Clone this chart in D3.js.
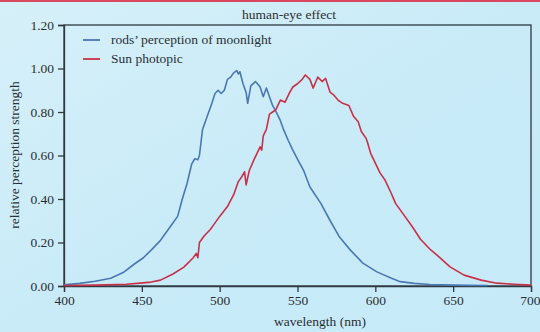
<!DOCTYPE html>
<html><head><meta charset="utf-8">
<script src="https://cdn.jsdelivr.net/npm/d3@7"></script>
<style>html,body{margin:0;padding:0;}svg{display:block;}</style>
</head><body>
<script>
const title = "human-eye effect";
const xLabel = "wavelength (nm)";
const yLabel = "relative perception strength";
const seriesNames = ["rods\u2019 perception of moonlight", "Sun photopic"];
const xTicks = [400, 450, 500, 550, 600, 650, 700];
const yTicks = [0, 0.2, 0.4, 0.6, 0.8, 1.0, 1.2];

const rodsNm = [400,410,420,430,438,445,451,456,462,468,473,476,479,482,484,486,487,489,492,495,497,499,501,503,505,507,509,511,512,513,515,517,518,520,523,526,528,530,532,534,537,539,541,544,547,551,554,558,565,571,577,584,592,601,610,616,625,635,650,660,672];
const rodsVal = [0.005,0.012,0.022,0.036,0.062,0.10,0.13,0.165,0.21,0.27,0.32,0.40,0.47,0.56,0.585,0.58,0.60,0.72,0.78,0.84,0.885,0.90,0.885,0.90,0.95,0.96,0.98,0.99,0.975,0.985,0.93,0.89,0.84,0.92,0.94,0.915,0.87,0.91,0.87,0.83,0.79,0.76,0.72,0.67,0.625,0.57,0.53,0.455,0.38,0.30,0.225,0.165,0.105,0.065,0.037,0.02,0.012,0.007,0.004,0.003,0.002];

const sunNm = [400,420,440,449,456,462,470,477,483,485,486,487,490,492,494,496,500,505,509,512,514,516,517,519,522,524,526,527,528,530,532,534,536,539,542,545,547,550,553,555,558,560,563,566,568,571,573,576,579,583,586,589,591,594,595,597,603,606,610,613,619,624,629,635,640,648,657,668,678,689,700];
const sunVal = [0.002,0.004,0.008,0.013,0.018,0.027,0.055,0.087,0.13,0.15,0.13,0.20,0.23,0.245,0.26,0.28,0.32,0.365,0.42,0.48,0.50,0.525,0.465,0.53,0.58,0.61,0.64,0.625,0.69,0.72,0.79,0.80,0.81,0.855,0.845,0.89,0.915,0.93,0.95,0.97,0.95,0.91,0.96,0.94,0.955,0.89,0.88,0.855,0.84,0.83,0.78,0.755,0.71,0.68,0.66,0.61,0.52,0.49,0.43,0.38,0.32,0.27,0.215,0.17,0.14,0.088,0.05,0.027,0.013,0.008,0.004];

const colors = ["#4a79b2", "#c83048"];

const W = 540, H = 332;
const m = {left: 64, right: 9, top: 25, bottom: 46};
const svg = d3.select("body").append("svg").attr("width", W).attr("height", H);

const defs = svg.append("defs");
const grad = defs.append("linearGradient").attr("id","bg").attr("x1","0").attr("y1","0").attr("x2","1").attr("y2","1");
grad.append("stop").attr("offset","0").attr("stop-color","#d6f0f9");
grad.append("stop").attr("offset","0.5").attr("stop-color","#c9ebf8");
grad.append("stop").attr("offset","1").attr("stop-color","#c6eaf8");
svg.append("rect").attr("width", W).attr("height", H).attr("fill", "url(#bg)");
svg.append("rect").attr("width", W).attr("height", 2).attr("fill", "#d9485c");

const x = d3.scaleLinear().domain([400, 700]).range([m.left, W - m.right]);
const y = d3.scaleLinear().domain([0, 1.2]).range([H - m.bottom, m.top]);

const font = "'Liberation Serif', 'DejaVu Serif', serif";
const axisColor = "#2f3a40";
const fs = "13.5px";

// frame
svg.append("rect").attr("x", m.left).attr("y", m.top)
  .attr("width", W - m.right - m.left).attr("height", H - m.bottom - m.top)
  .attr("fill", "none").attr("stroke", axisColor).attr("stroke-width", 1.3);

const xAxis = svg.append("g").attr("transform", `translate(0,${H - m.bottom})`)
  .call(d3.axisBottom(x).tickValues(xTicks).tickFormat(d3.format("d")).tickSize(6).tickPadding(3));
const yAxis = svg.append("g").attr("transform", `translate(${m.left},0)`)
  .call(d3.axisLeft(y).tickValues(yTicks).tickFormat(d3.format(".2f")).tickSize(6).tickPadding(4));
[xAxis, yAxis].forEach(g => {
  g.select(".domain").attr("stroke", axisColor).attr("stroke-width", 1.3);
  g.selectAll(".tick line").attr("stroke", axisColor).attr("stroke-width", 1.3);
  g.selectAll(".tick text").attr("fill", "#2b2f33").style("font-family", font).style("font-size", fs);
});
// keep the last x label inside the window
xAxis.selectAll(".tick text").filter(d => d === 700).attr("text-anchor", "end").attr("dx", "9");

const line = d3.line().x(d => x(d[0])).y(d => y(d[1]));
const series = [
  d3.zip(rodsNm, rodsVal),
  d3.zip(sunNm, sunVal)
];
series.forEach((s, i) => {
  svg.append("path").datum(s).attr("d", line).attr("fill", "none")
    .attr("stroke", colors[i]).attr("stroke-width", 1.6).attr("stroke-linejoin", "round");
});

// legend
seriesNames.forEach((name, i) => {
  const ly = 40 + i * 19;
  svg.append("line").attr("x1", 83).attr("x2", 100).attr("y1", ly).attr("y2", ly)
    .attr("stroke", colors[i]).attr("stroke-width", 1.8);
  svg.append("text").attr("x", 111).attr("y", ly + 4).text(name)
    .attr("fill", "#2b2f33").style("font-family", font).style("font-size", fs);
});

svg.append("text").attr("x", 289).attr("y", 19).attr("text-anchor", "middle").text(title)
  .attr("fill", "#2b2f33").style("font-family", font).style("font-size", fs);
svg.append("text").attr("x", 320).attr("y", 326).attr("text-anchor", "middle").text(xLabel)
  .attr("fill", "#2b2f33").style("font-family", font).style("font-size", fs);
svg.append("text").attr("transform", "translate(19,155) rotate(-90)").attr("text-anchor", "middle").text(yLabel)
  .attr("fill", "#2b2f33").style("font-family", font).style("font-size", fs);
</script>
</body></html>
